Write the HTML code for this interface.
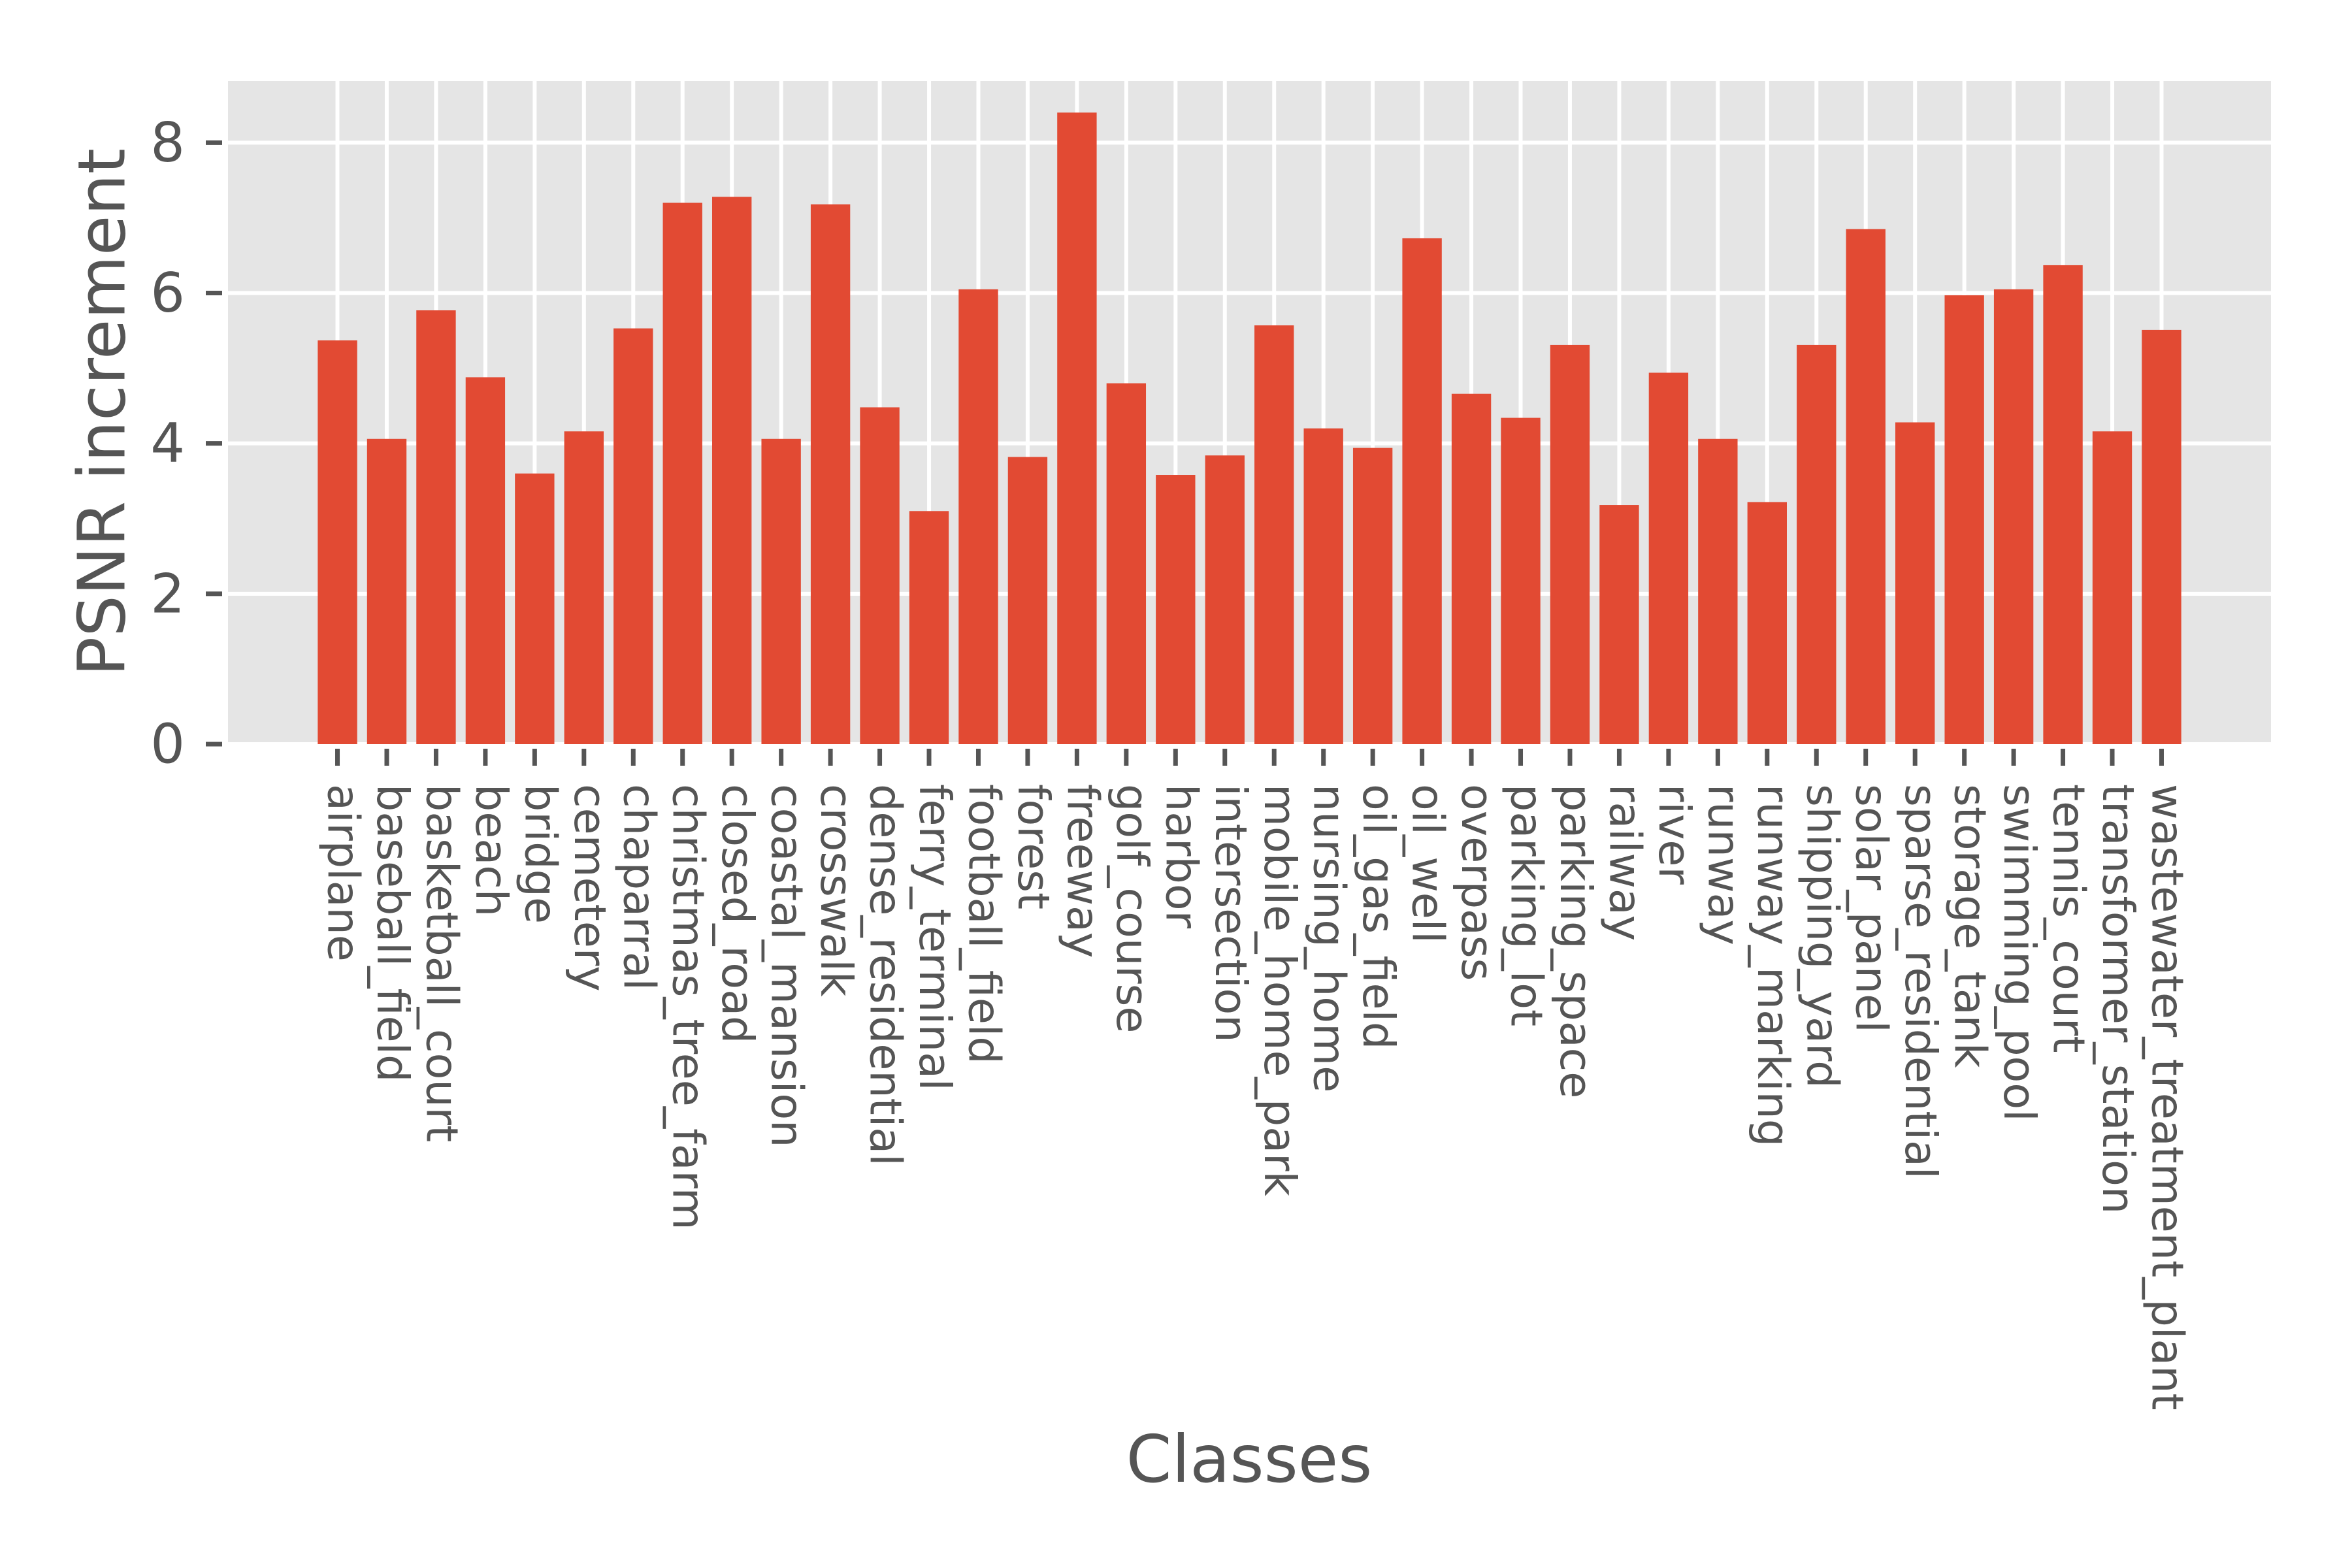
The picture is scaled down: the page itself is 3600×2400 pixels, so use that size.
<!DOCTYPE html>
<html><head><meta charset="utf-8"><style>
html,body{margin:0;padding:0;background:#fff;}
svg{display:block;font-family:"DejaVu Sans","Liberation Sans",sans-serif;}
</style></head><body>
<svg id="chart" width="3600" height="2400" viewBox="0 0 3600 2400" xmlns="http://www.w3.org/2000/svg">
<rect x="349" y="124" width="3127" height="1015" fill="#E5E5E5"/>
<g id="grid"></g>
<g id="bars"></g>
<g id="yaxis"></g>
<g id="xaxis"></g>
<text transform="translate(156,631) rotate(-90)" text-anchor="middle" dominant-baseline="central" font-size="100" fill="#555555">PSNR increment</text>
<text x="1912" y="2268" text-anchor="middle" font-size="100" fill="#555555">Classes</text>
</svg>
<script>
const categories = ["airplane","baseball_field","basketball_court","beach","bridge","cemetery","chaparral","christmas_tree_farm","closed_road","coastal_mansion","crosswalk","dense_residential","ferry_terminal","football_field","forest","freeway","golf_course","harbor","intersection","mobile_home_park","nursing_home","oil_gas_field","oil_well","overpass","parking_lot","parking_space","railway","river","runway","runway_marking","shipping_yard","solar_panel","sparse_residential","storage_tank","swimming_pool","tennis_court","transformer_station","wastewater_treatment_plant"];
const values = [5.37,4.06,5.77,4.88,3.60,4.16,5.53,7.20,7.28,4.06,7.18,4.48,3.10,6.05,3.82,8.40,4.80,3.58,3.84,5.57,4.20,3.94,6.73,4.66,4.34,5.31,3.18,4.94,4.06,3.22,5.31,6.85,4.28,5.97,6.05,6.37,4.16,5.51];
const yTicks = [0,2,4,6,8];

const NS = "http://www.w3.org/2000/svg";
const plotL = 349, plotR = 3476, plotT = 124, plotB = 1139;
const n = categories.length;
const margin = 2.22;
const xMin = -margin, xMax = (n - 1) + margin;
const yMax = Math.max(...values) * 1.05;
function xScale(i){ return plotL + (i - xMin) / (xMax - xMin) * (plotR - plotL); }
function yScale(v){ return plotB - v / yMax * (plotB - plotT); }
const step = xScale(1) - xScale(0);
function mk(tag, attrs, parent){
  const el = document.createElementNS(NS, tag);
  for (const k in attrs) el.setAttribute(k, attrs[k]);
  parent.appendChild(el);
  return el;
}
const grid = document.getElementById('grid');
const bars = document.getElementById('bars');
const yaxis = document.getElementById('yaxis');
const xaxis = document.getElementById('xaxis');

yTicks.forEach(t => {
  const y = yScale(t);
  const g = mk('line', {x1: plotL, x2: plotR, y1: y, y2: y, stroke: '#ffffff', 'stroke-width': 6}, grid);
  
  
  const tk = mk('line', {x1: 315, x2: 340, y1: y, y2: y, stroke: '#555555', 'stroke-width': 7}, yaxis);
  
  
  const lb = mk('text', {x: 283, y: y, 'text-anchor': 'end', 'dominant-baseline': 'central', 'font-size': 83, fill: '#555555'}, yaxis);
  lb.textContent = String(t);
  
  
});

categories.forEach((c, i) => {
  const x = xScale(i);
  const g = mk('line', {x1: x, x2: x, y1: plotT, y2: plotB, stroke: '#ffffff', 'stroke-width': 6}, grid);
  
  
  const w = step * 0.8;
  const y = yScale(values[i]);
  const b = mk('rect', {x: x - w / 2, y: y, width: w, height: plotB - y, fill: '#E24A33'}, bars);
  
  
  const tk = mk('line', {x1: x, x2: x, y1: 1146, y2: 1172, stroke: '#555555', 'stroke-width': 7}, xaxis);
  
  
  const lb = mk('text', {x: 0, y: 14, transform: 'translate(' + x + ',1200) rotate(90)', 'font-size': 66.7, fill: '#555555'}, xaxis);
  lb.textContent = c;
  
  
});
</script>
</body></html>
